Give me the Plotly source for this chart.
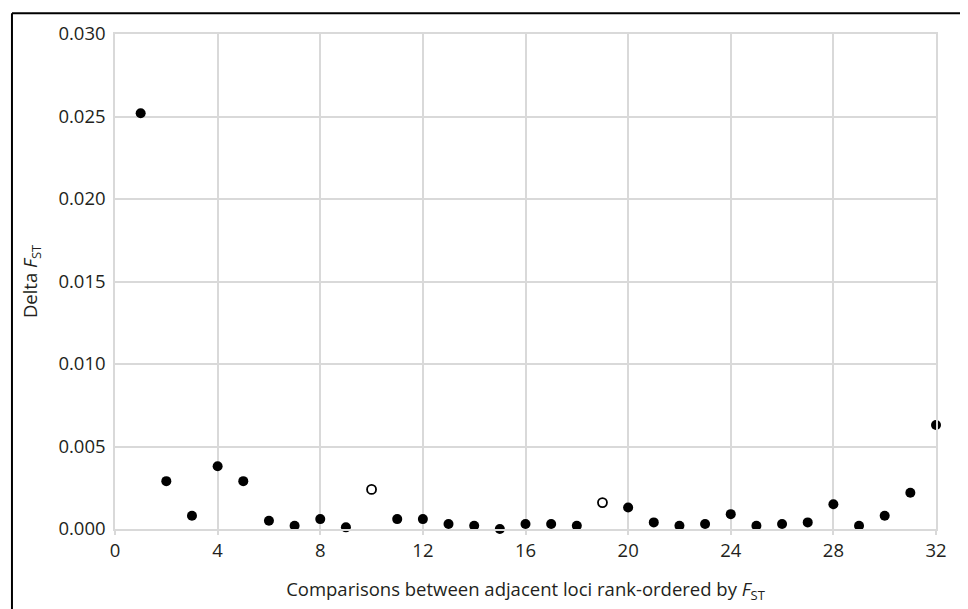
import plotly.graph_objects as go

comparisons = list(range(1, 33))
delta_fst = [0.0252, 0.0029, 0.0008, 0.0038, 0.0029, 0.0005, 0.0002, 0.0006,
             0.0001, 0.0024, 0.0006, 0.0006, 0.0003, 0.0002, 0.0000, 0.0003,
             0.0003, 0.0002, 0.0016, 0.0013, 0.0004, 0.0002, 0.0003, 0.0009,
             0.0002, 0.0003, 0.0004, 0.0015, 0.0002, 0.0008, 0.0022, 0.0063]
open_points = [10, 19]

x_ticks = [0, 4, 8, 12, 16, 20, 24, 28, 32]
y_ticks = [0.000, 0.005, 0.010, 0.015, 0.020, 0.025, 0.030]

filled_x = [c for c in comparisons if c not in open_points]
filled_y = [v for c, v in zip(comparisons, delta_fst) if c not in open_points]
open_x = [c for c in comparisons if c in open_points]
open_y = [v for c, v in zip(comparisons, delta_fst) if c in open_points]

fig = go.Figure()
fig.add_trace(go.Scatter(x=filled_x, y=filled_y, mode="markers",
                         marker=dict(size=10, color="black"),
                         cliponaxis=False, showlegend=False))
fig.add_trace(go.Scatter(x=open_x, y=open_y, mode="markers",
                         marker=dict(size=9, color="white",
                                     line=dict(color="black", width=1.8)),
                         cliponaxis=False, showlegend=False))

grid = "#d9d9d9"
font_family = "Open Sans, Noto Sans, sans-serif"
fig.update_layout(
    width=960, height=601,
    margin=dict(l=107, r=32, t=21, b=80),
    plot_bgcolor="white", paper_bgcolor="white",
    font=dict(family=font_family, size=18.5, color="#231f20"),
    xaxis=dict(range=[0, 32], tickvals=x_ticks, showgrid=True, gridcolor=grid,
               gridwidth=1.5, zeroline=False, showline=True, linecolor=grid,
               linewidth=1.5, mirror=True, ticks="outside", ticklen=4,
               tickcolor=grid, tickwidth=1.5,
               title=dict(text="Comparisons between adjacent loci rank-ordered by <i>F</i><sub>ST</sub>",
                          standoff=22, font=dict(size=18.5))),
    yaxis=dict(range=[0, 0.030], tickvals=y_ticks, tickformat=".3f",
               showgrid=True, gridcolor=grid, gridwidth=1.5, zeroline=False,
               showline=True, linecolor=grid, linewidth=1.5, mirror=True,
               ticks="", ticklabelstandoff=4,
               title=dict(text="Delta <i>F</i><sub>ST</sub>",
                          standoff=16, font=dict(size=18.5))),
)

# outer frame
fig.add_shape(type="line", xref="paper", yref="paper", x0=-0.1255, x1=-0.1255,
              y0=1.042, y1=-0.2, line=dict(color="black", width=2))
fig.add_shape(type="line", xref="paper", yref="paper", x0=-0.1255, x1=1.0365,
              y0=1.042, y1=1.042, line=dict(color="black", width=2))
fig.add_shape(type="line", xref="paper", yref="paper", x0=1.0365, x1=1.0365,
              y0=1.042, y1=-0.2, line=dict(color="#555555", width=1))

fig.write_html("out.html")
